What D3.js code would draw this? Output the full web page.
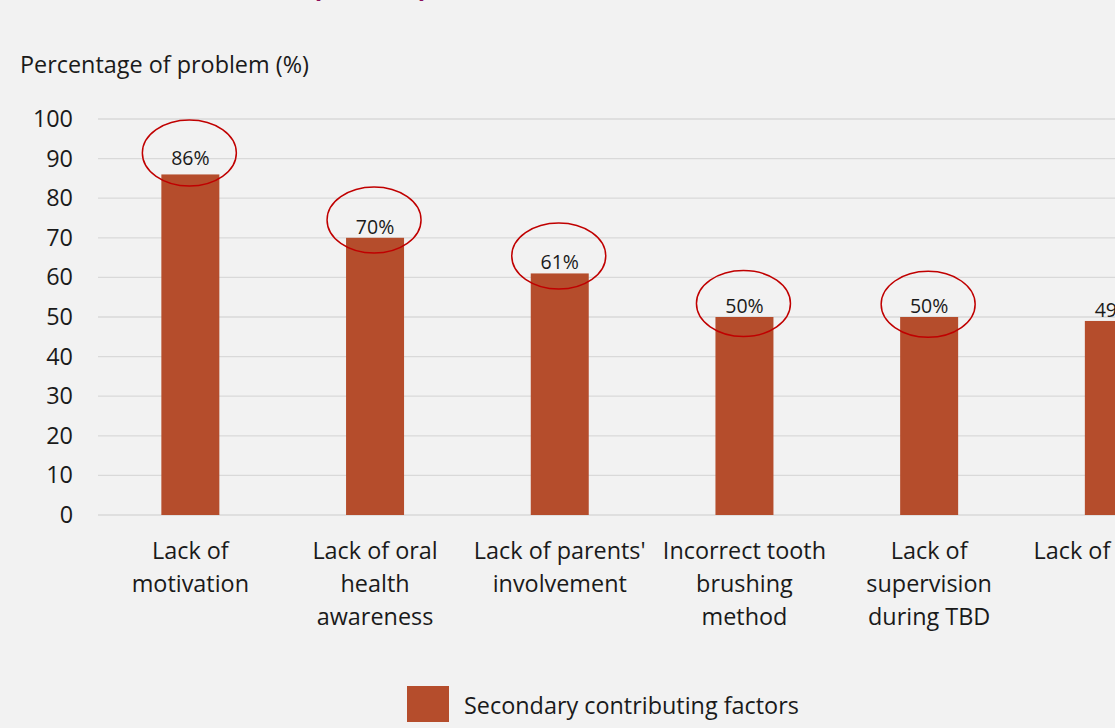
<!DOCTYPE html>
<html><head><meta charset="utf-8">
<script src="https://cdn.jsdelivr.net/npm/d3@7"></script>
<style>
html,body{margin:0;padding:0;background:#F2F2F2;overflow:hidden;}
text{font-family:"Open Sans",sans-serif;}
</style></head>
<body>
<svg id="c" width="1115" height="728"></svg>
<script>
const categories = [
  ["Lack of", "motivation"],
  ["Lack of oral", "health", "awareness"],
  ["Lack of parents'", "involvement"],
  ["Incorrect tooth", "brushing", "method"],
  ["Lack of", "supervision", "during TBD"],
  ["Lack of reward"]
];
const values = [86, 70, 61, 50, 50, 49];
// annotation ellipses (centre in value units), only for the first five bars
const ellipseCentres = [91.4, 74.5, 65.4, 53.4, 53.2];
const yTicks = [0, 10, 20, 30, 40, 50, 60, 70, 80, 90, 100];
const seriesName = "Secondary contributing factors";
const yTitle = "Percentage of problem (%)";

const svg = d3.select("#c");
const barColor = "#B54D2C";
const left = 98, y0 = 515, y100 = 119;
const step = 184.7;
const fs = 23.4;

const x = d3.scaleBand().domain(d3.range(categories.length))
  .range([left, left + step * categories.length]).paddingInner(0.686).paddingOuter(0.343);
const y = d3.scaleLinear().domain([0, 100]).range([y0, y100]);

// clipped title remnant
svg.append("text").attr("x", 312).attr("y", -3).attr("fill", "#8B0F5A")
  .attr("font-weight", "bold").attr("font-size", 28).text("(n = 116)");

// gridlines
svg.append("g").selectAll("line").data(yTicks).join("line")
  .attr("x1", left).attr("x2", 1115)
  .attr("y1", d => y(d)).attr("y2", d => y(d))
  .attr("stroke", "#D9D9D9").attr("stroke-width", 1.3);

// y axis labels
const yAxis = d3.axisLeft(y).tickValues(yTicks).tickSize(0).tickPadding(0);
const gy = svg.append("g").attr("transform", "translate(73,0)").call(yAxis);
gy.select(".domain").remove();
gy.selectAll("text").attr("font-size", fs).attr("fill", "#1a1a1a")
  .style("font-family", "'Open Sans', sans-serif");

svg.append("text").attr("x", 20).attr("y", 73).attr("font-size", fs)
  .attr("fill", "#1a1a1a").text(yTitle);

// bars
svg.append("g").selectAll("rect").data(values).join("rect")
  .attr("x", (d, i) => x(i)).attr("width", x.bandwidth())
  .attr("y", d => y(d)).attr("height", d => y0 - y(d))
  .attr("fill", barColor);

// value labels
svg.append("g").selectAll("text").data(values).join("text")
  .attr("x", (d, i) => x(i) + x.bandwidth() / 2)
  .attr("y", (d, i) => y(d) - (i === 0 ? 9 : 4))
  .attr("text-anchor", "middle").attr("font-size", 19.5).attr("fill", "#1a1a1a")
  .text(d => d + "%");

// ellipses
svg.append("g").selectAll("ellipse").data(ellipseCentres).join("ellipse")
  .attr("cx", (d, i) => x(i) + x.bandwidth() / 2 - 1)
  .attr("cy", d => y(d))
  .attr("rx", 47).attr("ry", 33)
  .attr("fill", "none").attr("stroke", "#C00000").attr("stroke-width", 1.5);

// category labels
const cat = svg.append("g").selectAll("text").data(categories).join("text")
  .attr("x", (d, i) => x(i) + x.bandwidth() / 2)
  .attr("y", 559).attr("text-anchor", "middle").attr("font-size", fs).attr("fill", "#1a1a1a");
cat.selectAll("tspan").data(d => d).join("tspan")
  .attr("x", function () { return d3.select(this.parentNode).attr("x"); })
  .attr("dy", (d, j) => j === 0 ? 0 : 33).text(d => d);

// legend
svg.append("rect").attr("x", 407).attr("y", 686).attr("width", 42).attr("height", 36).attr("fill", barColor);
svg.append("text").attr("x", 464).attr("y", 714).attr("font-size", fs).attr("fill", "#1a1a1a").text(seriesName);
</script>
</body></html>
